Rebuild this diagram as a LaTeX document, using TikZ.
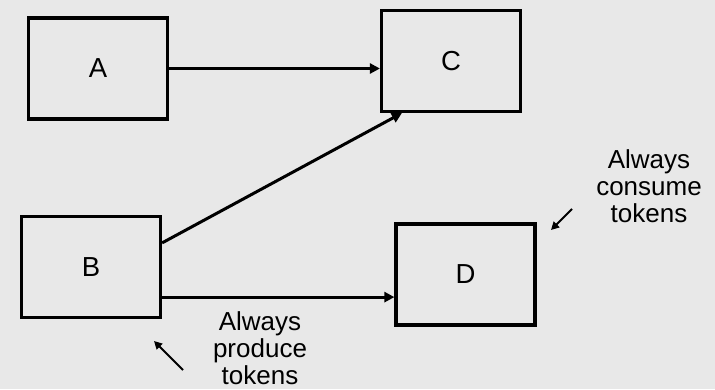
\documentclass[tikz,border=0pt]{standalone}
\usepackage{fontspec}
\setmainfont{Liberation Sans}
\usetikzlibrary{arrows.meta}
\definecolor{bg}{HTML}{E8E8E8}
\begin{document}
\begin{tikzpicture}[x=1pt,y=-1pt,
  block/.style={draw=black,line width=3.2pt,minimum width=139pt,minimum height=101pt,
    inner sep=0pt,font=\fontsize{27.5}{28}\selectfont},
  flow/.style={line width=3pt,-{Triangle[length=10pt,width=10pt]}},
  pointer/.style={line width=2pt,-{Triangle[length=8pt,width=8pt]}},
  note/.style={align=center,inner sep=0pt,anchor=north,font=\fontsize{26}{27}\selectfont}]
  \fill[bg] (0,0) rectangle (715,389);
  \useasboundingbox (0,0) rectangle (715,389);

  % processing blocks
  \node[block] (A) at (98,68.5) {A};
  \node[block] (C) at (451,61) {C};
  \node[block] (B) at (91,267) {B};
  \node[block] (D) at (465.5,274.5) {D};

  % connections between blocks
  \draw[flow] (A.east) -- (A.east -| C.west);
  \draw[flow] ([yshift=-28pt]B.north east) -- ([xshift=22pt]C.south west);
  \draw[flow] ([yshift=22pt]B.south east) -- ([yshift=22pt]B.south east -| D.west);

  % annotations
  \node[note] (prod) at (260,311) {Always\\produce\\tokens};
  \node[note] (cons) at (649,149) {Always\\consume\\tokens};

  \coordinate (prodtail) at (183,370);
  \coordinate (prodtip) at (154,341);
  \coordinate (constail) at (572,209);
  \coordinate (constip) at (551,230);
  \draw[pointer] (prodtail) -- (prodtip);
  \draw[pointer] (constail) -- (constip);
\end{tikzpicture}
\end{document}
